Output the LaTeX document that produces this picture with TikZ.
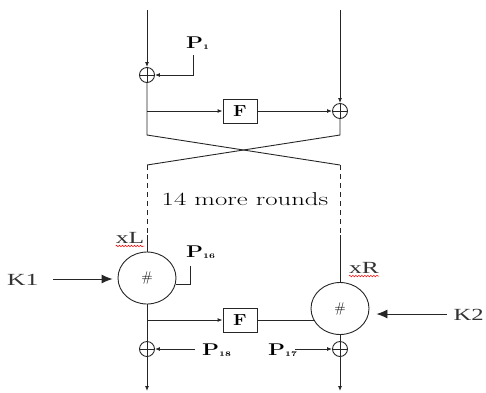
\documentclass[tikz,border=0pt]{standalone}
\usepackage{fontspec}
\newfontfamily\tms{Liberation Serif}
\usetikzlibrary{arrows.meta,shapes.geometric,decorations.pathmorphing}
\newcommand{\sxx}[2]{\scalebox{#1}[1]{#2}}
\newcommand{\plab}[1]{\sxx{1.3}{\textbf{P}\raisebox{-1.5pt}{\fontsize{7}{8}\selectfont\bfseries #1}}}
\begin{document}
\begin{tikzpicture}[x=1pt,y=-1pt,
 ln/.style={line width=0.9pt,black!85},
 sa/.style={-{Latex[length=5pt,width=4pt]}},
 ba/.style={-{Latex[length=11pt,width=9pt]}},
 xorn/.style={circle,draw=black!85,line width=0.9pt,minimum size=15pt,inner sep=0pt,
   path picture={\draw[line width=0.9pt,black!85] (path picture bounding box.north)--(path picture bounding box.south)
   (path picture bounding box.west)--(path picture bounding box.east);}},
 fbox/.style={draw=black!85,line width=0.9pt,minimum width=34pt,minimum height=24pt,inner sep=0pt,
   font=\fontsize{16}{18}\selectfont\bfseries},
 rnd/.style={ellipse,draw=black!85,line width=0.9pt,minimum width=58pt,minimum height=52pt,inner sep=0pt,
   font=\fontsize{14}{16}\selectfont},
 lbl/.style={inner sep=0pt,font=\fontsize{17}{19}\selectfont},
 rlbl/.style={inner sep=0pt,font=\fontsize{18.6}{20}\selectfont},
 tlbl/.style={inner sep=0pt,text=black!80,font=\fontsize{17}{19}\selectfont\tms},
 wavy/.style={red,decorate,decoration={snake,amplitude=0.8pt,segment length=3pt},line width=0.5pt}
]
\useasboundingbox (0,0) rectangle (486,392);
% top round
\coordinate (tl) at (147,10);
\coordinate (tr) at (340,10);
\node[xorn] (x1) at (147,75) {};
\node[xorn] (x2) at (340,111) {};
\node[fbox] (f1) at (240,111) {\sxx{1.2}{F}};
\node[lbl,anchor=base west] (p1) at (186,48) {\plab{1}};
\coordinate (p1c) at (193,55);
\draw[ln,sa] (tl) -- (x1.north);
\draw[ln,sa] (p1c) |- (x1.east);
\draw[ln,sa] (tr) -- (x2.north);
\coordinate (fs1) at (147,111);
\draw[ln,sa] (fs1) -- (f1.west);
\draw[ln,sa] (f1.east) -- (x2.west);
% cross
\coordinate (lb) at (147,135);
\coordinate (rb) at (340,135);
\coordinate (lc) at (147,165);
\coordinate (rc) at (340,165);
\coordinate (ld) at (147,235);
\coordinate (rd) at (340,235);
\draw[ln] (x1.south) -- (lb) -- (rc);
\draw[ln] (x2.south) -- (rb) -- (lc);
\draw[ln,dash pattern=on 5pt off 4pt] (lc) -- (ld);
\draw[ln,dash pattern=on 5pt off 4pt] (rc) -- (rd);
\node[rlbl] (rounds) at (245,199) {\sxx{1.44}{14 more rounds}};
% last round
\node[rnd] (c1) at (147,278) {\#};
\node[rnd] (c2) at (340,308.5) {\#};
\draw[ln] (ld) -- (c1.north);
\draw[ln] (rd) -- (c2.north);
\node[tlbl,anchor=base] (xl) at (130,243) {\sxx{1.5}{xL}};
\draw[wavy] ([yshift=-3pt]xl.base west) -- ([yshift=-3pt]xl.base east);
\node[tlbl,anchor=base] (xr) at (364,273) {\sxx{1.5}{xR}};
\draw[wavy] ([yshift=-3pt]xr.base west) -- ([yshift=-3pt]xr.base east);
\node[tlbl,anchor=base west] (k1) at (7,285) {\sxx{1.5}{K1}};
\node[tlbl,anchor=base east] (k2) at (484,320) {\sxx{1.45}{K2}};
\coordinate (k1a) at (53,279);
\coordinate (k2a) at (447,314);
\draw[ln,ba,shorten >=5pt] (k1a) -- (k1a -| c1.west);
\draw[ln,ba,shorten >=7pt] (k2a) -- (k2a -| c2.east);
\node[lbl,anchor=base west] (p16) at (186,257) {\plab{16}};
\coordinate (p16c) at (190,266);
\draw[ln] (c1.-13) -- (c1.-13 -| p16c) -- (p16c);
\node[fbox] (f2) at (240,320) {\sxx{1.2}{F}};
\coordinate (fs2) at (147,320);
\draw[ln,sa] (fs2) -- (f2.west);
\draw[ln] (f2.east) -- (f2.east -| c2.205);
\node[xorn] (x3) at (147,349) {};
\node[xorn] (x4) at (340,349) {};
\draw[ln] (c1.south) -- (x3.north);
\draw[ln] (c2.south) -- (x4.north);
\coordinate (bl) at (147,391);
\coordinate (br) at (340,391);
\draw[ln,sa] (x3.south) -- (bl);
\draw[ln,sa] (x4.south) -- (br);
\node[lbl,anchor=base west] (p18) at (202,355) {\plab{18}};
\node[lbl,anchor=base west] (p17) at (268,355) {\plab{17}};
\coordinate (p18a) at (195,349);
\coordinate (p17a) at (295,349);
\draw[ln,sa] (p18a) -- (x3.east);
\draw[ln,sa] (p17a) -- (x4.west);
\end{tikzpicture}
\end{document}
